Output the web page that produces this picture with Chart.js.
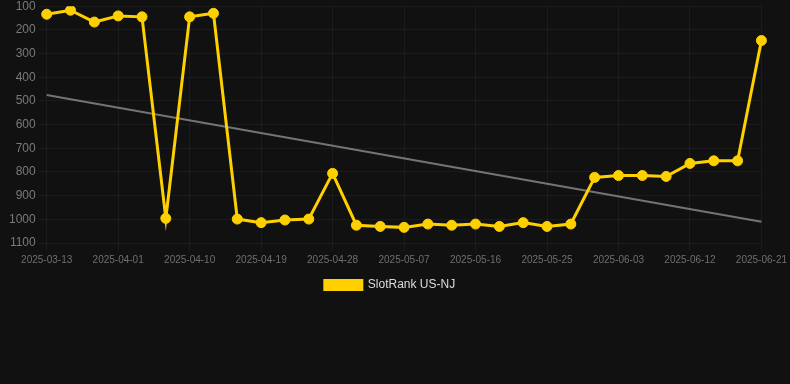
<!DOCTYPE html>
<html>
<head>
<meta charset="utf-8">
<script src="https://cdn.jsdelivr.net/npm/chart.js@4/dist/chart.umd.min.js"></script>
<style>
  html, body { margin: 0; padding: 0; background: #111111; overflow: hidden; }
  #wrap { width: 790px; height: 388px; margin-top: -4px; }
</style>
</head>
<body>
<div id="wrap"><canvas id="myChart"></canvas></div>
<script>
const dates = [
  '2025-03-13', '2025-03-20', '2025-03-26', '2025-04-01', '2025-04-04', '2025-04-07',
  '2025-04-10', '2025-04-13', '2025-04-16', '2025-04-19', '2025-04-22', '2025-04-25',
  '2025-04-28', '2025-05-01', '2025-05-04', '2025-05-07', '2025-05-10', '2025-05-13',
  '2025-05-16', '2025-05-19', '2025-05-22', '2025-05-25', '2025-05-28', '2025-05-31',
  '2025-06-03', '2025-06-06', '2025-06-09', '2025-06-12', '2025-06-15', '2025-06-18',
  '2025-06-21'
];
const rankNJ = [
  134, 117, 167, 141, 145, 996, 145, 130, 999, 1014,
  1003, 999, 806, 1025, 1030, 1034, 1020, 1025, 1020, 1030,
  1014, 1030, 1020, 823, 815, 815, 819, 764, 753, 753,
  245
];
// trend line: only the two ends, gaps spanned
const trend = dates.map(() => null);
trend[0] = 475;
trend[trend.length - 1] = 1010;

const yTicks = [100, 200, 300, 400, 500, 600, 700, 800, 900, 1000, 1100];

const ctx = document.getElementById('myChart');

new Chart(ctx, {
  type: 'line',
  data: {
    labels: dates,
    datasets: [
      {
        label: 'SlotRank US-NJ',
        data: rankNJ,
        borderColor: '#FFD000',
        backgroundColor: '#FFD000',
        borderWidth: 3,
        pointRadius: 5,
        pointHoverRadius: 5,
        pointBackgroundColor: '#FFD000',
        pointBorderColor: '#FFD000',
        pointBorderWidth: 1,
        tension: 0,
        fill: false
      },
      {
        label: 'trend',
        data: trend,
        borderColor: 'rgba(150,150,150,0.75)',
        borderWidth: 2,
        pointRadius: 0,
        spanGaps: true,
        fill: false
      }
    ]
  },
  options: {
    responsive: true,
    maintainAspectRatio: false,
    animation: false,
    layout: {
      padding: { left: 6, right: 16, top: 0, bottom: 83 }
    },
    scales: {
      x: {
        grid: { color: 'rgba(255,255,255,0.045)', drawTicks: true },
        border: { display: false },
        ticks: {
          color: '#6f6f6f',
          font: { size: 10 },
          maxRotation: 0,
          autoSkip: false,
          callback: function(value, index) {
            return index % 3 === 0 ? dates[index] : null;
          }
        }
      },
      y: {
        reverse: true,
        min: 100,
        max: 1100,
        afterBuildTicks: function(axis) {
          axis.ticks = yTicks.map(v => ({ value: v }));
        },
        grid: { color: 'rgba(255,255,255,0.045)' },
        border: { display: false },
        ticks: {
          color: '#7a7a7a',
          font: { size: 12 },
          callback: v => String(v)
        }
      }
    },
    plugins: {
      legend: {
        position: 'bottom',
        labels: {
          color: '#dddddd',
          font: { size: 12 },
          boxWidth: 37,
          boxHeight: 9,
          filter: item => item.text !== 'trend'
        }
      },
      tooltip: { enabled: false }
    }
  }
});
</script>
</body>
</html>
